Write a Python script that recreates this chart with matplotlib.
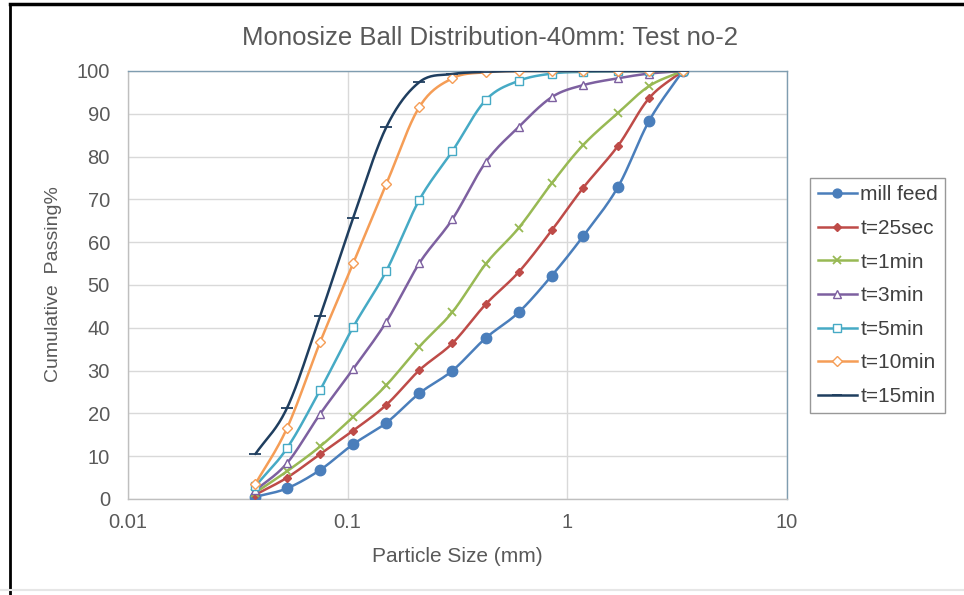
import numpy as np
import matplotlib
matplotlib.use("Agg")
import matplotlib.pyplot as plt
from matplotlib.lines import Line2D

plt.rcParams['font.family'] = ['Liberation Sans', 'DejaVu Sans']

sizes = [0.038, 0.053, 0.075, 0.106, 0.15, 0.212, 0.3, 0.425, 0.6, 0.85, 1.18, 1.7, 2.36, 3.35]

mill_feed = [0.5, 2.5, 6.8, 12.8, 17.8, 24.7, 30.0, 37.6, 43.6, 52.2, 61.4, 72.9, 88.4, 100]
t_25sec = [1.0, 5.0, 10.5, 16.0, 22.0, 30.1, 36.4, 45.5, 53.0, 62.8, 72.7, 82.5, 93.7, 100]
t_1min = [1.5, 6.5, 12.3, 19.2, 26.6, 35.6, 43.7, 54.9, 63.3, 73.8, 82.7, 90.2, 96.5, 100]
t_3min = [2.0, 8.4, 19.9, 30.4, 41.4, 55.1, 65.4, 78.7, 86.9, 93.9, 96.7, 98.3, 99.4, 100]
t_5min = [3.0, 11.9, 25.5, 40.2, 53.3, 69.9, 81.3, 93.2, 97.7, 99.4, 99.8, 99.9, 100, 100]
t_10min = [3.5, 16.6, 36.7, 55.1, 73.6, 91.6, 98.3, 99.7, 100, 100, 100, 100, 100, 100]
t_15min = [10.5, 21.3, 42.8, 65.7, 86.9, 97.4, 99.3, 99.8, 100, 100, 100, 100, 100, 100]

series_names = ["mill feed", "t=25sec", "t=1min", "t=3min", "t=5min", "t=10min", "t=15min"]
series_values = [mill_feed, t_25sec, t_1min, t_3min, t_5min, t_10min, t_15min]

colors = ["#4A7EBB", "#BE4B48", "#98B954", "#7D60A0", "#46AAC5", "#F59D56", "#1F3E5F"]
markers = ["o", "D", "x", "^", "s", "D", "_"]
msizes = [7.5, 4.5, 6, 6, 6, 5.5, 8]
fills = [True, True, True, False, False, False, True]

title = "Monosize Ball Distribution-40mm: Test no-2"
xlabel = "Particle Size (mm)"
ylabel = "Cumulative  Passing%"


def smooth(xs, ys, n=20):
    # Catmull-Rom spline in (log10 x, y) space, like Excel smoothed lines
    lx = np.log10(np.asarray(xs, float))
    y = np.asarray(ys, float)
    px = np.concatenate([[2 * lx[0] - lx[1]], lx, [2 * lx[-1] - lx[-2]]])
    py = np.concatenate([[2 * y[0] - y[1]], y, [2 * y[-1] - y[-2]]])
    outx, outy = [], []
    t = np.linspace(0, 1, n, endpoint=False)
    for i in range(1, len(px) - 2):
        for arr, out in ((px, outx), (py, outy)):
            p0, p1, p2, p3 = arr[i - 1], arr[i], arr[i + 1], arr[i + 2]
            v = 0.5 * ((2 * p1) + (-p0 + p2) * t + (2 * p0 - 5 * p1 + 4 * p2 - p3) * t ** 2
                       + (-p0 + 3 * p1 - 3 * p2 + p3) * t ** 3)
            out.extend(v)
    outx.append(lx[-1]); outy.append(y[-1])
    return 10 ** np.array(outx), np.array(outy)


fig = plt.figure(figsize=(9.64, 5.95), dpi=100)
ax = fig.add_axes([128 / 964, 1 - 499 / 595, 659 / 964, 428 / 595])

handles = []
for name, vals, c, m, ms, f in zip(series_names, series_values, colors, markers, msizes, fills):
    sx, sy = smooth(sizes, vals)
    ax.plot(sx, sy, color=c, lw=1.8, zorder=3, solid_capstyle='round')
    mfc = c if f else "white"
    if m == "x" or m == "_":
        ax.plot(sizes, vals, ls="none", marker=m, ms=ms, mec=c, mew=1.3, zorder=4)
    else:
        ax.plot(sizes, vals, ls="none", marker=m, ms=ms, mfc=mfc, mec=c, mew=1.0, zorder=4)
    handles.append(Line2D([0], [0], color=c, lw=1.8, marker=m, ms=ms * 0.85,
                          mfc=mfc, mec=c, mew=1.0 if m not in ("x", "_") else 1.3))

ax.set_xscale("log")
ax.set_xlim(0.01, 10)
ax.set_ylim(0, 100)
ax.set_yticks(np.arange(0, 101, 10))
ax.set_xticks([0.01, 0.1, 1, 10])
ax.set_xticklabels(["0.01", "0.1", "1", "10"])
ax.minorticks_off()
ax.tick_params(axis="both", length=0, labelsize=14.5, colors="#595959")
ax.tick_params(axis="x", pad=10)
ax.tick_params(axis="y", pad=13)
ax.grid(True, color="#D9D9D9", lw=1.0, zorder=0)
ax.set_axisbelow(True)
for side in ("left", "bottom"):
    ax.spines[side].set_color("#BFBFBF")
    ax.spines[side].set_linewidth(1.0)
for side in ("top", "right"):
    ax.spines[side].set_color("#7F9DB0")
    ax.spines[side].set_linewidth(1.0)

fig.text(490 / 964, 1 - 38 / 595, title, fontsize=18.5, color="#595959",
         ha="center", va="center")
fig.text(457.5 / 964, 1 - 556 / 595, xlabel, fontsize=15, color="#595959",
         ha="center", va="center")
fig.text(54 / 964, 1 - 284 / 595, ylabel, fontsize=14, color="#595959",
         ha="center", va="center", rotation=90)

leg = fig.legend(handles, series_names, loc="upper left",
                 bbox_to_anchor=(810 / 964, 1 - 178 / 595), frameon=True,
                 fontsize=15, handlelength=1.9, handletextpad=0.15,
                 labelspacing=0.7, borderpad=0.36, borderaxespad=0,
                 fancybox=False)
leg.get_frame().set_edgecolor("#7F7F7F")
leg.get_frame().set_linewidth(1.0)
for t in leg.get_texts():
    t.set_color("#404040")

# outer frame of the pasted chart image
fig.add_artist(Line2D([10 / 964, 10 / 964], [0, 1 - 4 / 595], color="black", lw=2))
fig.add_artist(Line2D([10 / 964, 1], [1 - 4 / 595, 1 - 4 / 595], color="black", lw=2.5))
fig.add_artist(Line2D([0, 1], [5 / 595, 5 / 595], color="#E6E6E6", lw=1.5))

fig.savefig("out.png", dpi=100)
